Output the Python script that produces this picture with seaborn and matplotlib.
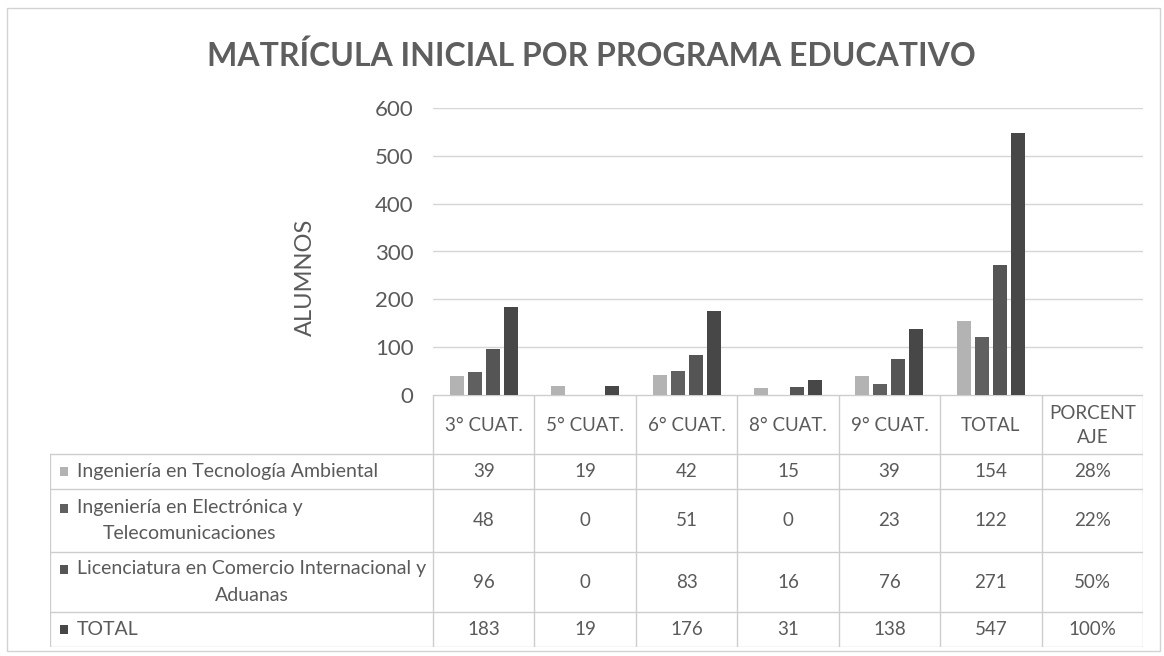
import numpy as np
import pandas as pd
import matplotlib
matplotlib.use("Agg")
import matplotlib.pyplot as plt
from matplotlib.patches import Rectangle
import seaborn as sns

# ---- data -----------------------------------------------------------------
categorias = ["3° CUAT.", "5° CUAT.", "6° CUAT.", "8° CUAT.", "9° CUAT.", "TOTAL", "PORCENTAJE"]
encabezados = ["3° CUAT.", "5° CUAT.", "6° CUAT.", "8° CUAT.", "9° CUAT.", "TOTAL", "PORCENT\nAJE"]
programas = [
    "Ingeniería en Tecnología Ambiental",
    "Ingeniería en Electrónica y\nTelecomunicaciones",
    "Licenciatura en Comercio Internacional y\nAduanas",
    "TOTAL",
]
ambiental = [39, 19, 42, 15, 39, 154]
electronica = [48, 0, 51, 0, 23, 122]
comercio = [96, 0, 83, 16, 76, 271]
total = [183, 19, 176, 31, 138, 547]
porcentaje = [28, 22, 50, 100]
yticks = [0, 100, 200, 300, 400, 500, 600]

colores = ["#b3b3b3", "#606060", "#555555", "#474747"]
texto = "#5a5a5a"
linea = "#cdcdcd"

series = [ambiental, electronica, comercio, total]
filas = []
for prog, vals, pct in zip(programas, series, porcentaje):
    # the percentage column is plotted as a fraction, as in the original sheet
    for cat, v in zip(categorias, vals + [pct / 100]):
        filas.append({"categoria": cat, "programa": prog, "alumnos": v})
df = pd.DataFrame(filas)

# ---- figure ---------------------------------------------------------------
sns.set_style("white")
plt.rcParams["font.family"] = ["Lato", "DejaVu Sans"]

W, H = 1164, 656
fig = plt.figure(figsize=(W / 100, H / 100), dpi=100)
fig.patch.set_facecolor("white")

# outer chart border
fig.add_artist(Rectangle((7 / W, (H - 651) / H), (1160 - 7) / W, (651 - 8) / H,
                         transform=fig.transFigure, fill=False,
                         edgecolor="#d2d2d2", lw=1))

# plot area
x0, x1 = 433, 1143
y_cero, y_top = 395, 108
ax = fig.add_axes([x0 / W, (H - y_cero) / H, (x1 - x0) / W, (y_cero - y_top) / H])
sns.barplot(data=df, x="categoria", y="alumnos", hue="programa",
            order=categorias, hue_order=programas, palette=colores,
            width=0.71, gap=0.22, saturation=1, linewidth=0,
            errorbar=None, legend=False, ax=ax)
ax.set_xlim(-0.5, len(categorias) - 0.5)
ax.set_ylim(0, 600)
ax.set_yticks(yticks)
ax.set_xticks([])
ax.set_xlabel("")
ax.set_ylabel("")
ax.yaxis.grid(True, color="#d6d6d6", lw=1)
ax.set_axisbelow(True)
for s in ax.spines.values():
    s.set_visible(False)
ax.tick_params(axis="y", length=0, pad=14, labelsize=16, labelcolor=texto)

fig.text(305 / W, (H - 277) / H, "ALUMNOS", rotation=90, ha="center", va="center",
         fontsize=17, color=texto)

fig.text(591 / W, (H - 56) / H, "MATRÍCULA INICIAL POR PROGRAMA EDUCATIVO",
         ha="center", va="center", fontsize=23, fontweight="bold", color="#5e5e5e")

# ---- data table -----------------------------------------------------------
col_px = (x1 - x0) / len(categorias)
tab_left = 50
tab_bottom = 647
tx_left = -0.5 - (x0 - tab_left) / col_px
tax = fig.add_axes([tab_left / W, (H - tab_bottom) / H, (x1 - tab_left) / W,
                    (tab_bottom - y_cero) / H])
tax.set_xlim(tx_left, len(categorias) - 0.5)
tax.set_ylim(tab_bottom - y_cero, 0)
tax.axis("off")

bordes = [0, 59, 94, 157, 217, 252]
ncol = len(categorias)
for k in range(ncol + 1):
    tax.plot([-0.5 + k, -0.5 + k], [bordes[0], bordes[-1]], color=linea, lw=1)
tax.plot([tx_left, tx_left], [bordes[1], bordes[-1]], color=linea, lw=1)
tax.plot([-0.5, ncol - 0.5], [bordes[0], bordes[0]], color=linea, lw=1)
for b in bordes[1:]:
    tax.plot([tx_left, ncol - 0.5], [b, b], color=linea, lw=1)

fs = 14
fs_celda = 13.5
for j, h in enumerate(encabezados):
    tax.text(j, (bordes[0] + bordes[1]) / 2 + 1, h, ha="center", va="center",
             fontsize=fs_celda, color=texto, linespacing=1.55)

lsp = 25
for r, (prog, vals, pct, col) in enumerate(zip(programas, series, porcentaje, colores)):
    yc = (bordes[r + 1] + bordes[r + 2]) / 2
    celdas = [str(v) for v in vals] + [f"{pct}%"]
    for j, c in enumerate(celdas):
        tax.text(j, yc, c, ha="center", va="center", fontsize=fs_celda, color=texto)
    nl = prog.count("\n") + 1
    ysq = yc - (nl - 1) * lsp / 2
    tax.add_patch(Rectangle((tx_left + 10 / col_px, ysq - 4.5), 8 / col_px, 9,
                            facecolor=col, edgecolor="none"))
    tax.text(tx_left + 27 / col_px, yc, prog, ha="left", va="center",
             multialignment="center", fontsize=fs, color=texto, linespacing=1.65)

fig.savefig("out.png", dpi=100, facecolor="white")
